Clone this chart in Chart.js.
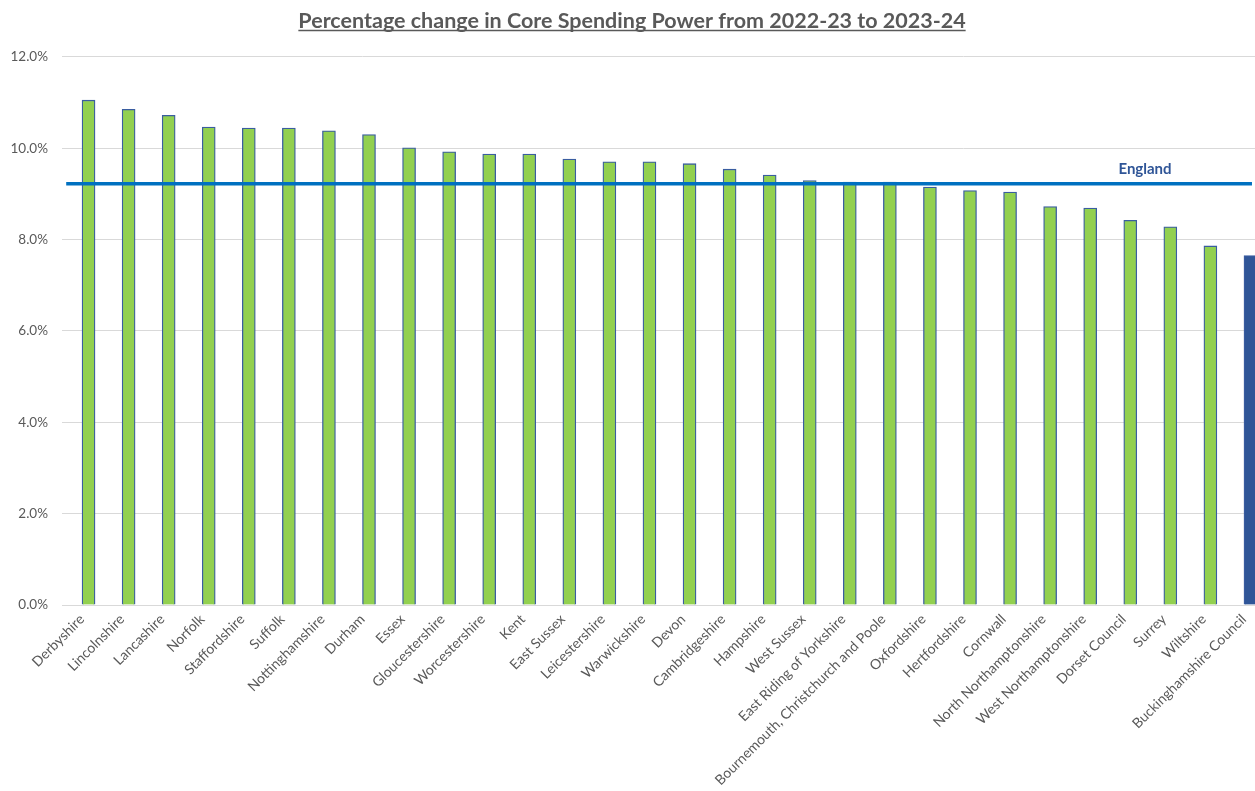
<!DOCTYPE html>
<html>
<head>
<meta charset="utf-8">
<script src="https://cdn.jsdelivr.net/npm/chart.js@4/dist/chart.umd.min.js"></script>
<style>
  html, body { margin: 0; padding: 0; background: #fff; overflow: hidden; }
  #wrap { width: 1264px; height: 791px; }
</style>
</head>
<body>
<div id="wrap"><canvas id="c" width="1264" height="791"></canvas></div>
<script>
const categories = [
  "Derbyshire", "Lincolnshire", "Lancashire", "Norfolk", "Staffordshire", "Suffolk",
  "Nottinghamshire", "Durham", "Essex", "Gloucestershire", "Worcestershire", "Kent",
  "East Sussex", "Leicestershire", "Warwickshire", "Devon", "Cambridgeshire", "Hampshire",
  "West Sussex", "East Riding of Yorkshire", "Bournemouth, Christchurch and Poole",
  "Oxfordshire", "Hertfordshire", "Cornwall", "North Northamptonshire",
  "West Northamptonshire", "Dorset Council", "Surrey", "Wiltshire", "Buckinghamshire Council"
];
const changePct = [
  11.05, 10.85, 10.72, 10.46, 10.44, 10.44,
  10.38, 10.30, 10.01, 9.92, 9.87, 9.87,
  9.76, 9.70, 9.70, 9.66, 9.54, 9.41,
  9.29, 9.26, 9.26,
  9.15, 9.07, 9.04, 8.72,
  8.69, 8.42, 8.28, 7.86, 7.65
];
const highlightCategory = "Buckinghamshire Council";
const englandAverage = 9.22;
const englandLabel = "England";
const yTicks = [0, 2, 4, 6, 8, 10, 12];
const titleText = "Percentage change in Core Spending Power from 2022-23 to 2023-24";

const FONT = "Lato, 'Open Sans', sans-serif";
const TITLE_SIZE = 21.5;
const barFill = categories.map(c => c === highlightCategory ? "#2F5597" : "#92D050");

const overlay = {
  id: "overlay",
  afterDraw(chart) {
    const ctx = chart.ctx;
    const tb = chart.titleBlock;
    ctx.save();
    ctx.font = "bold " + TITLE_SIZE + "px " + FONT;
    const w = ctx.measureText(titleText).width;
    const cx = (tb.left + tb.right) / 2;
    const yU = tb.top + tb.options.padding.top + TITLE_SIZE + 1;
    ctx.strokeStyle = "#595959";
    ctx.lineWidth = 1.3;
    ctx.beginPath();
    ctx.moveTo(cx - w / 2, yU);
    ctx.lineTo(cx + w / 2, yU);
    ctx.stroke();
    const ys = chart.scales.y, xs = chart.scales.x2;
    ctx.font = "bold 15px " + FONT;
    ctx.fillStyle = "#2F5597";
    ctx.textAlign = "center";
    ctx.textBaseline = "middle";
    ctx.fillText(englandLabel, xs.getPixelForValue(0.901), ys.getPixelForValue(englandAverage) - 15);
    ctx.restore();
  }
};

new Chart(document.getElementById("c"), {
  data: {
    labels: categories,
    datasets: [
      {
        type: "line",
        label: englandLabel,
        data: [{ x: 0.0035, y: englandAverage }, { x: 0.99, y: englandAverage }],
        xAxisID: "x2",
        borderColor: "#0070C0",
        borderWidth: 3.5,
        pointRadius: 0,
        order: 0
      },
      {
        type: "bar",
        label: "Change",
        data: changePct,
        backgroundColor: barFill,
        borderColor: "#3A5DA0",
        borderWidth: 1.3,
        barThickness: 13,
        order: 1
      }
    ]
  },
  options: {
    responsive: false,
    animation: false,
    layout: { padding: { left: 0, right: 0, top: 0, bottom: 0 } },
    plugins: {
      legend: { display: false },
      tooltip: { enabled: false },
      title: {
        display: true,
        text: titleText,
        color: "#595959",
        font: { family: FONT, size: TITLE_SIZE, weight: "bold" },
        padding: { top: 8, bottom: 23 }
      }
    },
    scales: {
      x: {
        type: "category",
        offset: true,
        grid: { display: false, drawTicks: false },
        border: { display: true, color: "#D9D9D9", width: 1 },
        ticks: {
          color: "#595959",
          font: { family: FONT, size: 14 },
          maxRotation: 45,
          minRotation: 45,
          autoSkip: false,
          padding: 6
        },
        afterFit(axis) { axis.height = 186; axis.paddingLeft = 0; axis.paddingRight = 0; }
      },
      x2: {
        type: "linear",
        display: false,
        min: 0,
        max: 1
      },
      y: {
        min: 0,
        max: 12,
        afterBuildTicks(axis) { axis.ticks = yTicks.map(v => ({ value: v })); },
        grid: { color: "#D9D9D9", lineWidth: 1, drawTicks: false },
        border: { display: false },
        ticks: {
          color: "#595959",
          font: { family: FONT, size: 13.5 },
          padding: 14,
          callback: v => v.toFixed(1) + "%"
        },
        afterFit(axis) { axis.width = 62; }
      }
    }
  },
  plugins: [overlay]
});
</script>
</body>
</html>
